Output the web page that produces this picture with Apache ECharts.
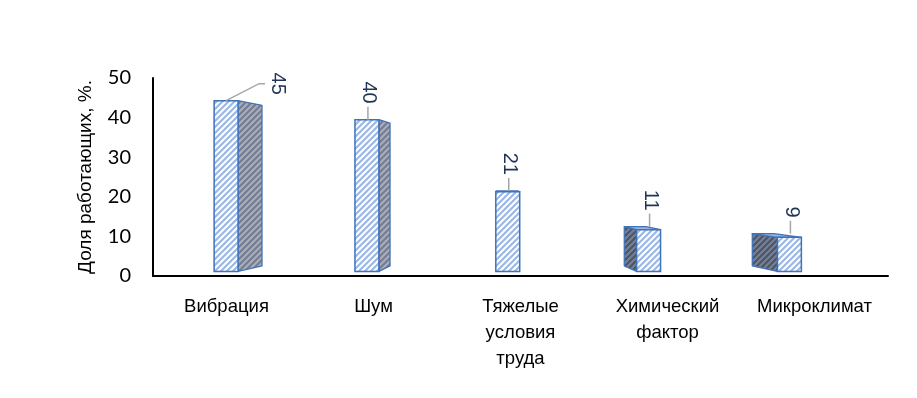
<!DOCTYPE html>
<html>
<head>
<meta charset="utf-8">
<script src="https://cdn.jsdelivr.net/npm/echarts@6/dist/echarts.min.js"></script>
<style>
  html, body { margin: 0; background: #fff; }
  #chart { width: 917px; height: 398px; }
</style>
</head>
<body>
<div id="chart"></div>
<script>
// категории и доля работающих, %
var categories = ['Вибрация', 'Шум', 'Тяжелые\nусловия\nтруда', 'Химический\nфактор', 'Микроклимат'];
var shares = [45, 40, 21, 11, 9];
var yTicks = [0, 10, 20, 30, 40, 50];

// штриховка "/" для граней
function hatch(bg, fg, size, width) {
  var c = document.createElement('canvas');
  c.width = size;
  c.height = size;
  var g = c.getContext('2d');
  g.fillStyle = bg;
  g.fillRect(0, 0, size, size);
  g.strokeStyle = fg;
  g.lineWidth = width;
  g.beginPath();
  g.moveTo(0, size); g.lineTo(size, 0);
  g.moveTo(-2, 2); g.lineTo(2, -2);
  g.moveTo(size - 2, size + 2); g.lineTo(size + 2, size - 2);
  g.stroke();
  return { image: c, repeat: 'repeat' };
}

var frontFill = hatch('#ffffff', '#9cb8e6', 6, 2.2);
var rightFill = hatch('#acaeb6', '#737d96', 6, 2.2);
var leftFill = hatch('#515459', '#74819e', 6, 2.2);
var topFill = '#9fb2d8';
var edge = '#3f73b8';
var labelColor = '#1f3556';

function poly(pts, fill) {
  return {
    type: 'polygon',
    shape: { points: pts },
    style: { fill: fill, stroke: edge, lineWidth: 1.3, lineJoin: 'round' }
  };
}

function renderBar(params, api) {
  var cs = params.coordSys;
  var top = api.coord([api.value(0), api.value(1)]);
  var base = api.coord([api.value(0), 0]);
  var half = api.size([1, 0])[0] * 0.085;

  // передняя грань чуть "в глубине" - сжата к левому краю
  var ox = cs.x + 64, oy = cs.y + 89, k = 0.958;
  function fr(x, y) { return [ox + (x - ox) * k, oy + (y - oy) * k]; }
  // задняя грань - к точке схода
  var vx = cs.x + 348, vy = cs.y + 100;
  function bk(p) { return [vx + (p[0] - vx) * 0.909, vy + (p[1] - vy) * 0.94]; }

  var tl = fr(top[0] - half, top[1]), tr = fr(top[0] + half, top[1]);
  var bl = fr(base[0] - half, base[1]), br = fr(base[0] + half, base[1]);
  var tlb = bk(tl), trb = bk(tr), blb = bk(bl), brb = bk(br);

  var kids = [];
  if (trb[0] > tr[0] + 0.5) kids.push(poly([tr, trb, brb, br], rightFill));
  if (tlb[0] < tl[0] - 0.5) kids.push(poly([tl, tlb, blb, bl], leftFill));
  if (tlb[1] < tl[1]) kids.push(poly([tl, tlb, trb, tr], topFill));
  kids.push({
    type: 'rect',
    shape: { x: tl[0], y: tl[1], width: tr[0] - tl[0], height: bl[1] - tl[1] },
    style: { fill: frontFill, stroke: edge, lineWidth: 1.5 }
  });

  // подпись значения с выноской
  var mx = (tl[0] + tr[0]) / 2;
  var my = Math.min(tl[1], tlb[1]);
  var txt = String(api.value(1));
  var font = '20px "Liberation Sans", Arial, sans-serif';
  var lineStyle = { stroke: '#a6a6a6', lineWidth: 1.5, fill: null };
  if (my - 40 < cs.y - 5) {
    var ly = my - 17;
    kids.push({
      type: 'polyline',
      shape: { points: [[mx, my], [tr[0] + 21, ly], [tr[0] + 27, ly]] },
      style: lineStyle
    });
    kids.push({
      type: 'text', x: tr[0] + 39, y: ly, rotation: -Math.PI / 2,
      style: { text: txt, font: font, fill: labelColor, align: 'center', verticalAlign: 'middle' }
    });
  } else {
    kids.push({
      type: 'line',
      shape: { x1: mx + 1, y1: my, x2: mx + 1, y2: my - 13 },
      style: lineStyle
    });
    kids.push({
      type: 'text', x: mx + 2, y: my - 16, rotation: -Math.PI / 2,
      style: { text: txt, font: font, fill: labelColor, align: 'right', verticalAlign: 'middle' }
    });
  }
  return { type: 'group', children: kids };
}

var chart = echarts.init(document.getElementById('chart'));
chart.setOption({
  animation: false,
  backgroundColor: '#ffffff',
  grid: { left: 153, right: 29, top: 78, bottom: 122 },
  xAxis: {
    type: 'category',
    data: categories,
    axisLine: { lineStyle: { color: '#000', width: 2 } },
    axisTick: { show: false },
    axisLabel: {
      interval: 0,
      margin: 18,
      color: '#000',
      fontFamily: '"Liberation Sans", Arial, sans-serif',
      fontSize: 18.5,
      lineHeight: 26
    }
  },
  yAxis: {
    type: 'value',
    min: yTicks[0],
    max: yTicks[yTicks.length - 1],
    interval: yTicks[1] - yTicks[0],
    name: 'Доля работающих, %.',
    nameLocation: 'middle',
    nameGap: 58,
    nameTextStyle: {
      color: '#000',
      fontFamily: '"Liberation Sans", Arial, sans-serif',
      fontSize: 19
    },
    axisLine: { show: true, lineStyle: { color: '#000', width: 2 } },
    axisTick: { show: false },
    splitLine: { show: false },
    axisLabel: {
      margin: 22,
      color: '#000',
      fontFamily: 'Lato, sans-serif',
      fontSize: 20
    }
  },
  series: [{
    type: 'custom',
    renderItem: renderBar,
    data: shares.map(function (v, i) { return [i, v]; }),
    clip: false
  }]
});
</script>
</body>
</html>
